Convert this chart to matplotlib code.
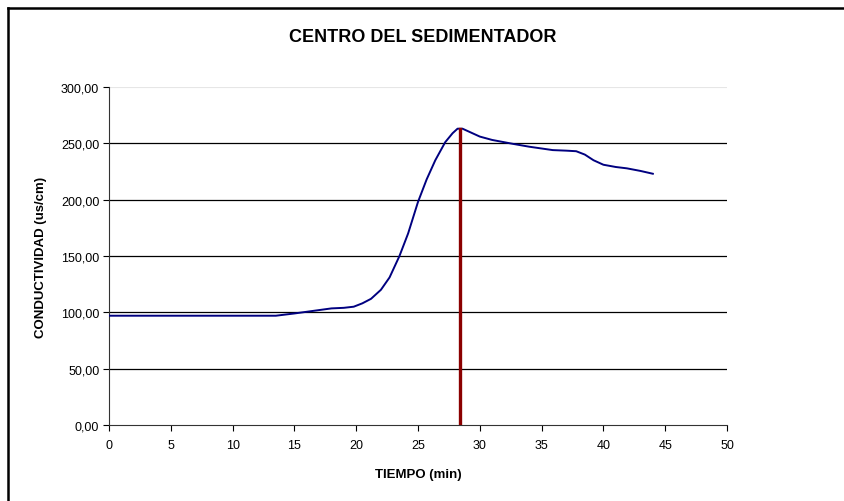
import matplotlib
matplotlib.use("Agg")
import matplotlib.pyplot as plt
from matplotlib.lines import Line2D
from matplotlib.ticker import FuncFormatter

# --- data ---
TIEMPO = [0, 2, 4, 6, 8, 10, 12, 13.5, 15, 16, 17, 18, 19, 19.8, 20.5, 21.2,
          22, 22.7, 23.5, 24.2, 25, 25.7, 26.4, 27.2, 27.8, 28.2, 28.6, 29.2,
          30, 31, 32.7, 34, 35.9, 37, 37.8, 38.5, 39.2, 40, 41, 41.9, 43, 44]
CONDUCTIVIDAD = [97, 97, 97, 97, 97, 97, 97, 97, 99, 100.5, 102, 103.5, 104, 105, 108,
                 112, 120, 131, 150, 170, 198, 218, 235, 251, 259, 263, 263, 260,
                 256, 253, 249.5, 247, 244, 243.5, 243, 240, 235, 231, 229, 227.8, 225.5, 223]
T_CORTE = 28.4
Y_CORTE = 263

TITLE = "CENTRO DEL SEDIMENTADOR"
XLABEL = "TIEMPO (min)"
YLABEL = "CONDUCTIVIDAD (us/cm)"

plt.rcParams['font.family'] = ['Liberation Sans', 'DejaVu Sans']

fig = plt.figure(figsize=(8.45, 5.02), dpi=100)
ax = fig.add_axes([109 / 845, 1 - 426 / 502, (727 - 109) / 845, (426 - 88) / 502])

# horizontal grid lines (Excel style)
for yv in [50, 100, 150, 200, 250]:
    ax.axhline(yv, color='black', lw=0.9, zorder=1)
ax.axhline(300, color='#e6e6e6', lw=1.5, zorder=1)

ax.plot(TIEMPO, CONDUCTIVIDAD, color='#000080', lw=1.4, zorder=3)
ax.plot([T_CORTE, T_CORTE], [0, Y_CORTE], color='#8B0000', lw=2.4, zorder=4)

ax.set_xlim(0, 50)
ax.set_ylim(0, 300)
ax.set_xticks(range(0, 51, 5))
ax.set_yticks(range(0, 301, 50))
ax.yaxis.set_major_formatter(FuncFormatter(lambda v, p: f"{v:.2f}".replace('.', ',')))
ax.tick_params(axis='both', direction='out', length=4, width=0.8, labelsize=9, colors='black')
ax.tick_params(axis='x', pad=6)
ax.tick_params(axis='y', pad=3)

for side in ['top', 'right']:
    ax.spines[side].set_visible(False)
for side in ['left', 'bottom']:
    ax.spines[side].set_linewidth(0.8)
    ax.spines[side].set_color('#333333')

ax.set_xlabel(XLABEL, fontsize=9.5, fontweight='bold', labelpad=12)
ax.set_ylabel(YLABEL, fontsize=9.5, fontweight='bold', labelpad=10)
fig.text(0.5, 1 - 38 / 502, TITLE, ha='center', va='center', fontsize=13, fontweight='bold')

# outer chart frame (only top and left visible in the cropped picture)
fig.add_artist(Line2D([8.5 / 845, 8.5 / 845], [0, 1 - 8.5 / 502], color='black', lw=1.8,
                      transform=fig.transFigure))
fig.add_artist(Line2D([8.5 / 845, 1], [1 - 8.5 / 502, 1 - 8.5 / 502], color='black', lw=1.8,
                      transform=fig.transFigure))

fig.savefig("out.png", dpi=100)
